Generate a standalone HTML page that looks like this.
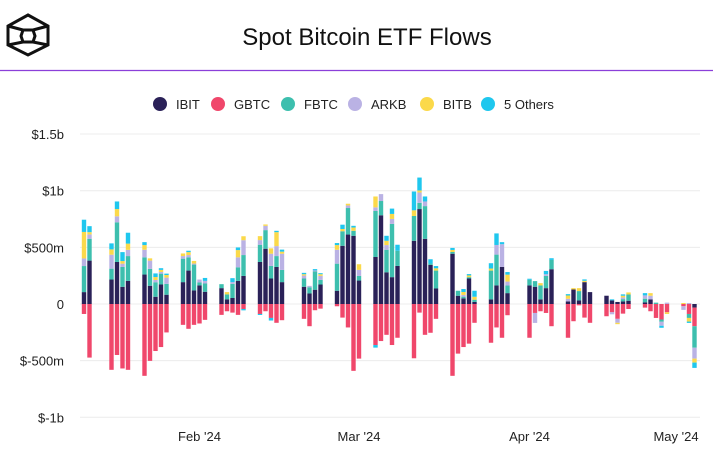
<!DOCTYPE html>
<html><head><meta charset="utf-8"><style>
body{margin:0;background:#fff;font-family:"Liberation Sans",sans-serif;}
#wrap{position:relative;width:713px;height:450px;overflow:hidden;}
</style></head><body>
<div id="wrap">
<svg id="svg" width="713" height="450" xmlns="http://www.w3.org/2000/svg">
  <g fill="none" stroke="#111" stroke-width="3">
    <polygon points="28,15 48,26 48,45 28,55 8,45 8,26"/>
    <polygon points="23,30 33,30 35,36 33,42 23,42 21,36"/>
    <line x1="8" y1="26" x2="23" y2="30"/><line x1="48" y1="26" x2="33" y2="30"/>
    <line x1="8" y1="45" x2="23" y2="42"/><line x1="48" y1="45" x2="33" y2="42"/>
  </g>
  <text x="367" y="45" text-anchor="middle" font-size="24" fill="#111">Spot Bitcoin ETF Flows</text>
  <line x1="0" y1="70.5" x2="713" y2="70.5" stroke="#8b3fd9" stroke-width="1.2"/>
  <g id="legend"></g>
  <g id="grid"></g>
  <g id="bars"></g>
  <g id="xaxis"></g>
</svg>
</div>
<script>
const dates=["2024-01-11","2024-01-12","2024-01-16","2024-01-17","2024-01-18","2024-01-19","2024-01-22","2024-01-23","2024-01-24","2024-01-25","2024-01-26","2024-01-29","2024-01-30","2024-01-31","2024-02-01","2024-02-02","2024-02-05","2024-02-06","2024-02-07","2024-02-08","2024-02-09","2024-02-12","2024-02-13","2024-02-14","2024-02-15","2024-02-16","2024-02-20","2024-02-21","2024-02-22","2024-02-23","2024-02-26","2024-02-27","2024-02-28","2024-02-29","2024-03-01","2024-03-04","2024-03-05","2024-03-06","2024-03-07","2024-03-08","2024-03-11","2024-03-12","2024-03-13","2024-03-14","2024-03-15","2024-03-18","2024-03-19","2024-03-20","2024-03-21","2024-03-22","2024-03-25","2024-03-26","2024-03-27","2024-03-28","2024-04-01","2024-04-02","2024-04-03","2024-04-04","2024-04-05","2024-04-08","2024-04-09","2024-04-10","2024-04-11","2024-04-12","2024-04-15","2024-04-16","2024-04-17","2024-04-18","2024-04-19","2024-04-22","2024-04-23","2024-04-24","2024-04-25","2024-04-26","2024-04-29","2024-04-30","2024-05-01"];
const ibit=[105,383,216,371,152,204,260,161,64,172,82,193,295,120,164,108,140,41,53,204,248,371,488,225,327,193,152,93,126,172,117,514,613,602,207,415,783,280,237,336,558,838,575,345,137,444,73,50,225,18,41,164,327,96,164,152,41,140,307,23,128,32,193,105,73,32,18,23,29,15,41,0,0,0,0,0,-32];
const gbtc=[-88,-473,-581,-450,-569,-581,-634,-502,-415,-380,-251,-184,-219,-184,-172,-140,-96,-64,-76,-96,-44,-88,-64,-123,-166,-143,-131,-196,-55,-41,-20,-120,-207,-590,-482,-362,-327,-272,-362,-298,-479,-76,-272,-254,-131,-634,-438,-380,-350,-166,-342,-207,-298,-99,-298,-79,-64,-79,-196,-298,-152,-12,-120,-166,-108,-73,-131,-85,-44,-32,-64,-123,-137,-73,-20,-88,-164];
const fbtc=[230,193,96,350,175,219,152,149,128,96,96,207,117,228,26,73,35,44,125,120,184,152,164,111,96,108,73,55,161,41,239,128,234,44,41,406,126,199,470,134,219,55,289,12,158,15,44,15,12,20,254,272,0,67,50,50,123,108,82,0,0,82,0,0,0,0,0,20,55,32,0,12,-20,0,0,-35,-190];
const arkb=[67,38,123,53,29,55,67,73,20,15,55,23,20,9,26,23,0,0,15,88,131,41,38,108,88,143,26,12,9,35,123,0,23,0,53,32,61,41,44,0,0,91,41,0,0,0,0,15,0,0,0,85,201,35,0,-88,0,15,0,23,0,0,0,0,0,-18,-35,15,0,29,32,0,-35,12,-32,9,-96];
const bitb=[234,20,47,64,23,55,41,20,26,18,23,23,26,23,0,0,0,20,0,64,35,35,12,47,123,18,12,0,0,15,41,20,15,29,50,96,0,38,44,0,50,18,0,0,20,18,0,26,15,26,18,0,0,61,0,0,20,0,0,29,12,26,12,0,0,0,-12,15,18,0,23,0,0,-15,9,-32,-35];
const others=[108,53,53,67,79,96,26,0,32,15,12,0,12,0,0,26,0,0,35,23,-12,-9,0,-23,12,18,12,0,12,9,18,38,0,15,0,-23,0,44,47,53,166,114,44,38,20,18,0,26,12,53,47,102,18,23,9,0,0,29,15,12,0,0,12,0,0,9,0,12,0,20,0,0,-18,0,0,-12,-47];
const seriesNames=["IBIT","GBTC","FBTC","ARKB","BITB","5 Others"];
const yTicks=[1500,1000,500,0,-500,-1000];
const yTickLabels=["$1.5b","$1b","$500m","0","$-500m","$-1b"];
const xTickDates=["2024-02-01","2024-03-01","2024-04-01","2024-05-01"];
const xTickLabels=["Feb '24","Mar '24","Apr '24","May '24"];

const colors=["#2a2158","#f0476b","#3dbfae","#bab2e4","#fbd94a","#1fc7ee"];
const series=[ibit,gbtc,fbtc,arkb,bitb,others];
const NS="http://www.w3.org/2000/svg";
const t0=Date.parse("2024-01-11");
function xs(d){return 84+(Date.parse(d)-t0)/86400000*5.5;}
function ys(v){return 304-v*0.1133;}
function mk(tag,attrs,parent){const e=document.createElementNS(NS,tag);for(const k in attrs)e.setAttribute(k,attrs[k]);parent.appendChild(e);return e;}
const grid=document.getElementById('grid');
yTicks.forEach((v,i)=>{
  const l=mk('line',{x1:80,x2:700,y1:ys(v),y2:ys(v),stroke:'#ececec','stroke-width':1},grid);
  
  
  const t=mk('text',{x:64,y:ys(v)+5,'text-anchor':'end','font-size':13,fill:'#222'},grid);
  t.textContent=yTickLabels[i];
  
  
});
const xa=document.getElementById('xaxis');
xTickDates.forEach((d,i)=>{
  const x=Math.min(xs(d),676);
  const t=mk('text',{x:x,y:441,'text-anchor':'middle','font-size':13,fill:'#222'},xa);
  t.textContent=xTickLabels[i];
  
  
});
const bars=document.getElementById('bars');
dates.forEach((d,i)=>{
  let pos=0,neg=0;const x=xs(d)-2.2;
  series.forEach((s,k)=>{
    const v=s[i];if(!v)return;
    let y0,y1;
    if(v>0){y0=ys(pos+v);y1=ys(pos);pos+=v;}else{y0=ys(neg);y1=ys(neg+v);neg+=v;}
    const r=mk('rect',{x:x,y:y0,width:4.4,height:Math.max(y1-y0,0.5),fill:colors[k]},bars);
    
    
  });
});
const lg=document.getElementById('legend');
const lx=[160,218,288,355,427,488];
seriesNames.forEach((n,k)=>{
  const c=mk('circle',{cx:lx[k],cy:104,r:7,fill:colors[k]},lg);
  
  
  const t=mk('text',{x:lx[k]+16,y:109,'font-size':13,fill:'#222'},lg);
  t.textContent=n;
  
  
});
</script>
</body></html>
